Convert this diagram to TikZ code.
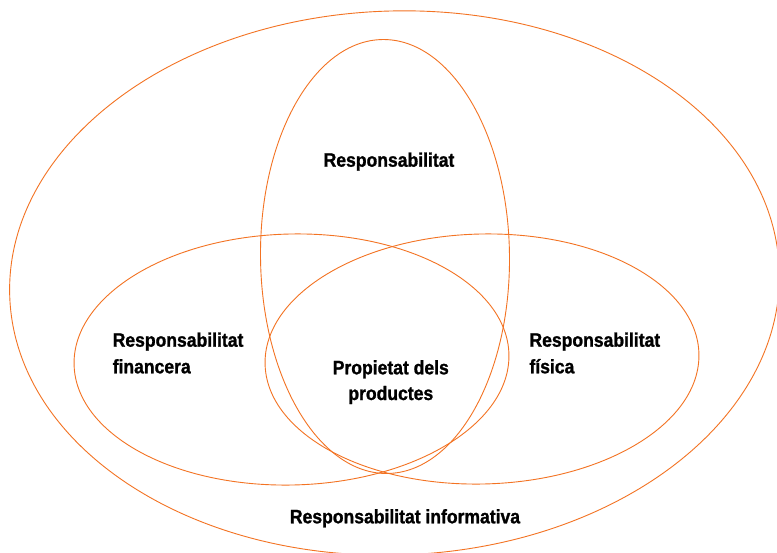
\documentclass[tikz,border=0pt]{standalone}
\usepackage{fontspec}
\setmainfont{Liberation Sans}[FakeStretch=0.9,BoldFeatures={FakeBold=1.2}]
\definecolor{vennorange}{RGB}{243,115,35}
\begin{document}
\begin{tikzpicture}[x=1pt,y=-1pt,
  ring/.style={draw=vennorange,line width=0.9pt},
  lbl/.style={inner sep=0pt,font=\fontsize{19.5}{23}\selectfont\bfseries,text=black}]
\useasboundingbox (0,0) rectangle (777,552);
\clip (0,0) rectangle (777,552);
\fill[white] (0,0) rectangle (777,552);
% outer ellipse
\draw[ring,rotate around={2:(394.5,283)}] (394.5,283) ellipse [x radius=385,y radius=272];
% vertical ellipse
\draw[ring,rotate around={0.6:(385,256.5)}] (385,256.5) ellipse [x radius=124.5,y radius=217];
% left ellipse
\draw[ring,rotate around={1.4:(291.5,359.5)}] (291.5,359.5) ellipse [x radius=217.5,y radius=125.5];
% right ellipse
\draw[ring,rotate around={1.4:(482,359)}] (482,359) ellipse [x radius=217,y radius=125];
% labels
\node[lbl,anchor=base] (top) at (389,166.7) {Responsabilitat};
\node[lbl,anchor=base west] (left1) at (112.5,346.7) {Responsabilitat};
\node[lbl,anchor=base west] (left2) at (112.5,373.3) {financera};
\node[lbl,anchor=base west] (right1) at (529.3,346.7) {Responsabilitat};
\node[lbl,anchor=base west] (right2) at (529.3,373.3) {física};
\node[lbl,anchor=base] (mid1) at (390.8,374.3) {Propietat dels};
\node[lbl,anchor=base] (mid2) at (390.8,400) {productes};
\node[lbl,anchor=base] (bottom) at (405,523.3) {Responsabilitat informativa};
\end{tikzpicture}
\end{document}
